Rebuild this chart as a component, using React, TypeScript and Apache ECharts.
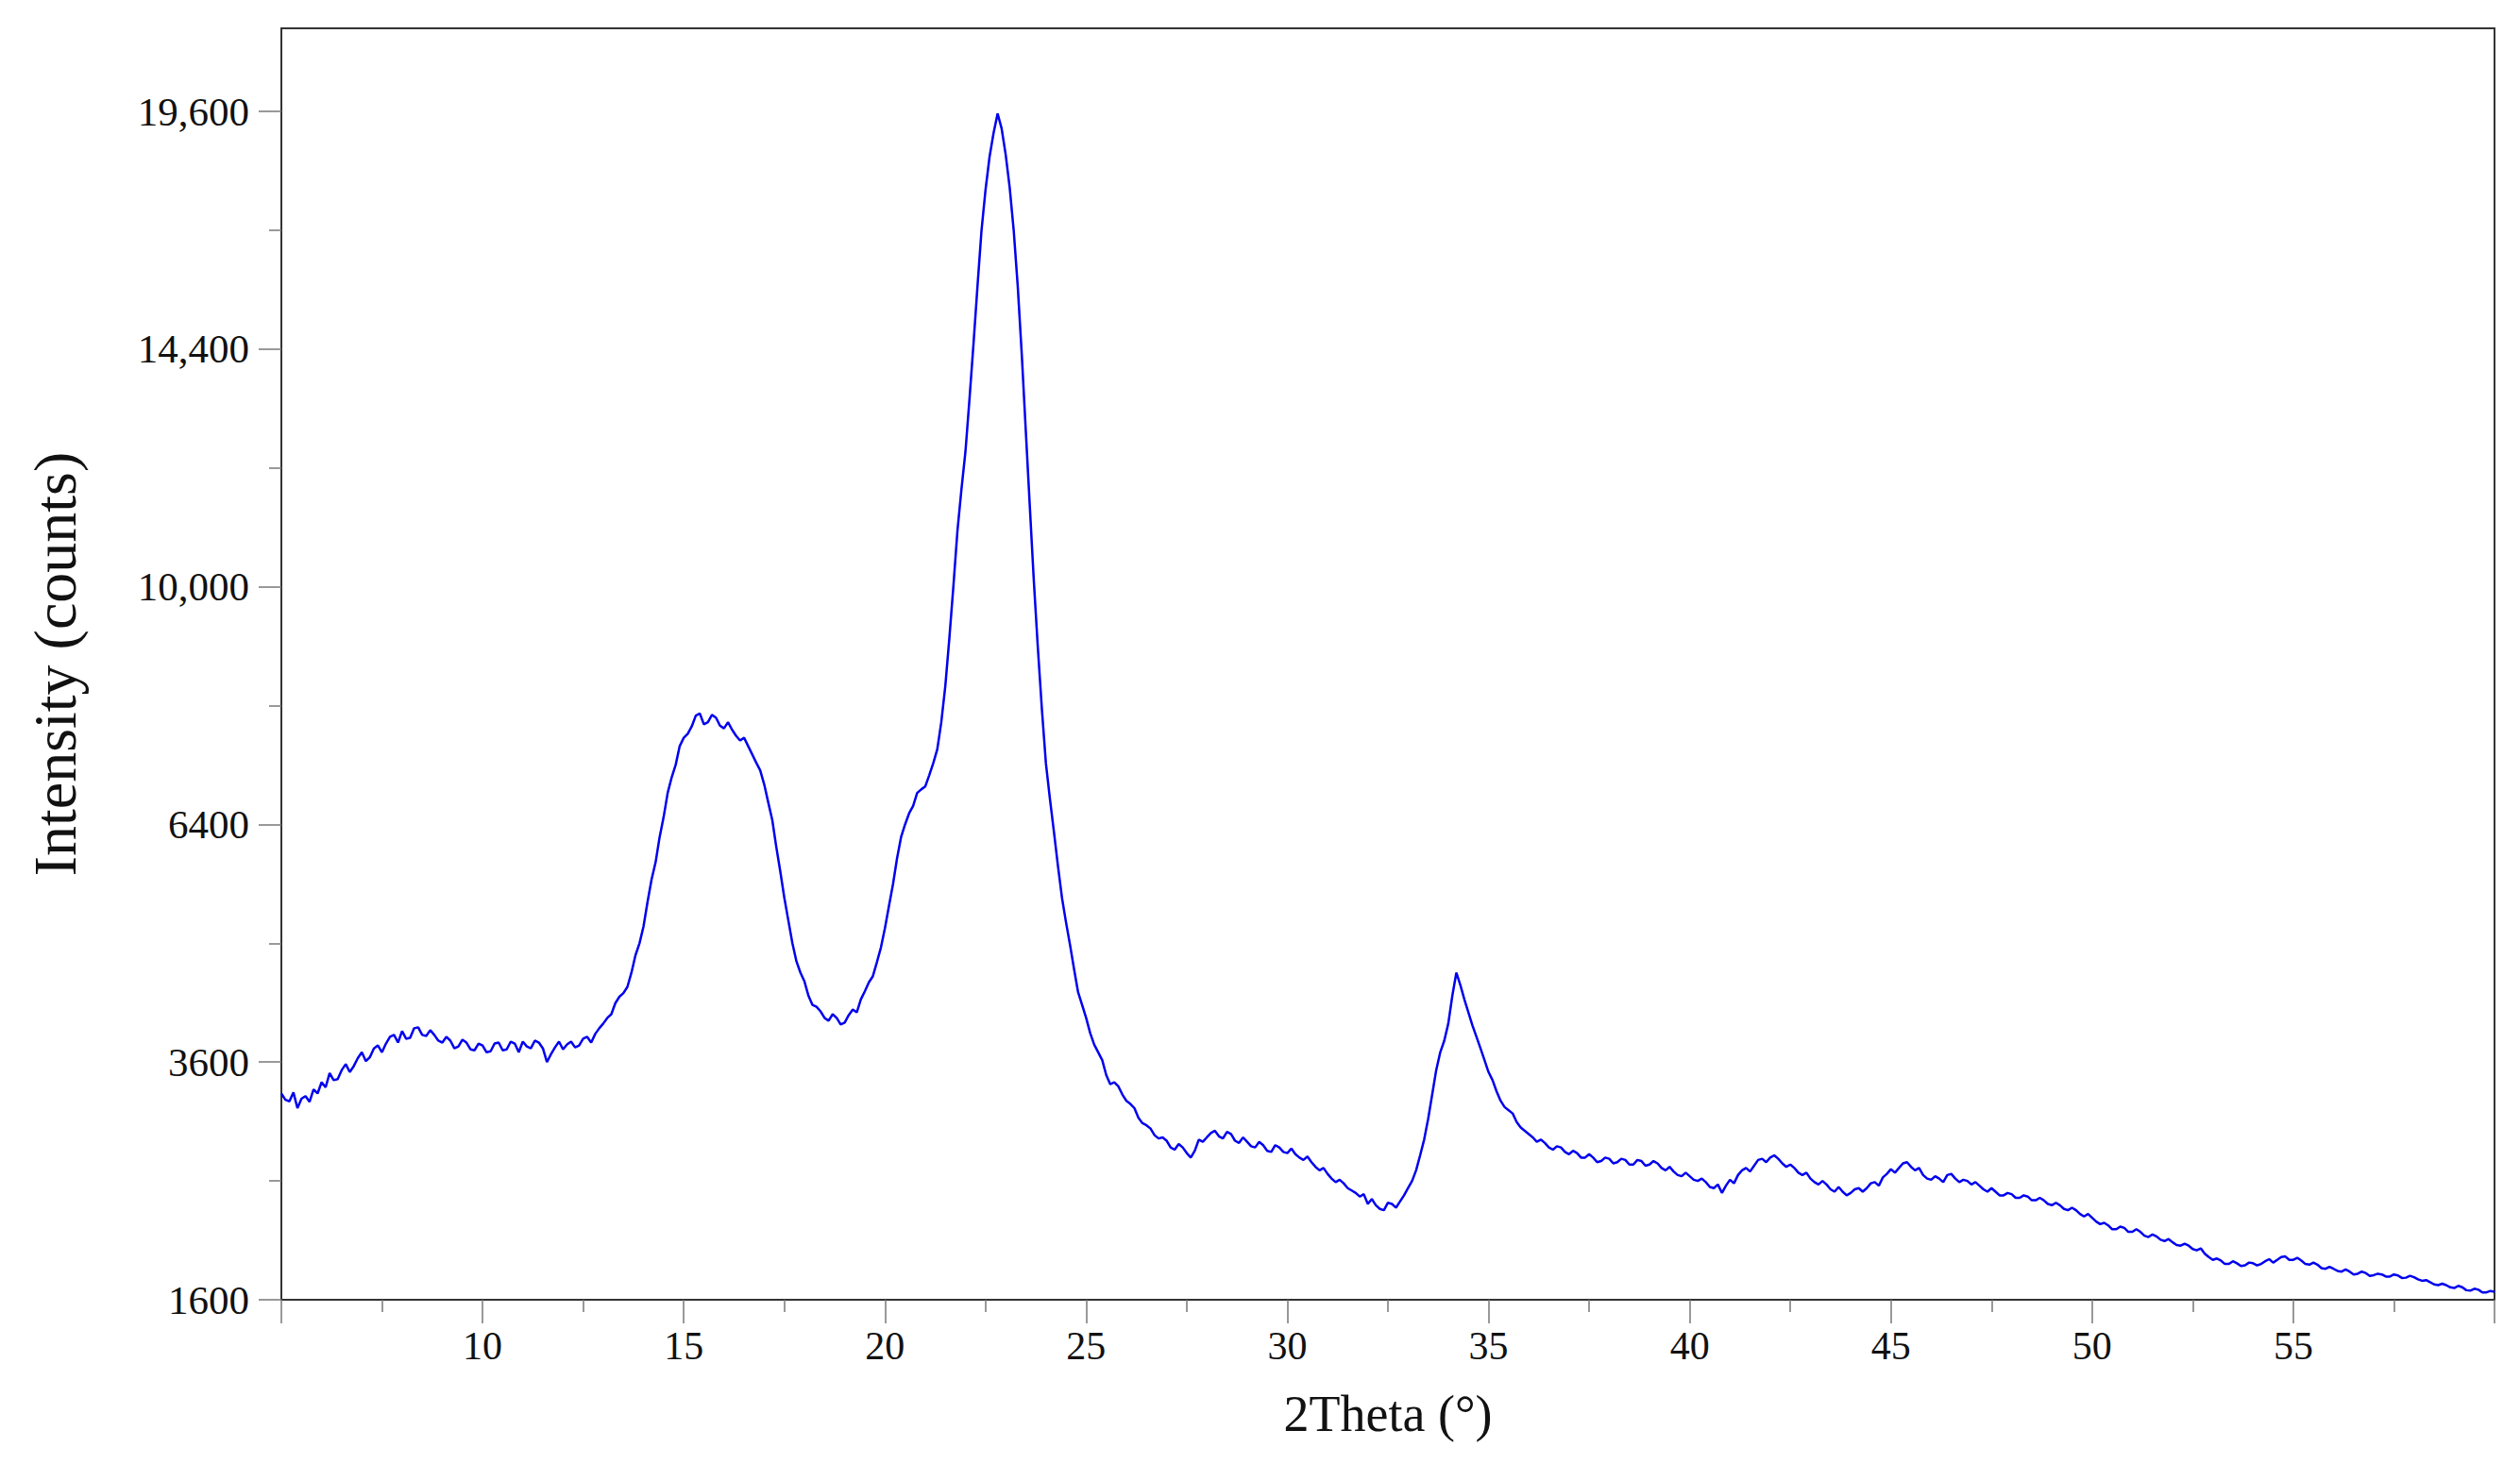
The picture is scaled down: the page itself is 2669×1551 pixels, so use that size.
import React, { useEffect, useRef } from "react"
import * as echarts from "echarts"

// scan settings (degrees 2θ)
const scanStart = 5
const scanStep = 0.1

// intensity in counts, one value per step from 5.0° to 60.0° (one row per degree)
const intensity = [
  3290, 3230, 3215, 3300, 3150, 3240, 3265, 3210, 3330, 3290,
  3400, 3350, 3490, 3420, 3430, 3520, 3580, 3500, 3560, 3640,
  3700, 3610, 3650, 3740, 3770, 3700, 3790, 3860, 3880, 3800,
  3920, 3840, 3850, 3950, 3960, 3880, 3870, 3930, 3880, 3820,
  3800, 3860, 3820, 3740, 3760, 3830, 3800, 3730, 3720, 3790,
  3770, 3700, 3710, 3790, 3800, 3720, 3730, 3810, 3790, 3700,
  3810, 3760, 3740, 3820, 3800, 3740, 3600, 3680, 3750, 3810,
  3730, 3780, 3810, 3750, 3770, 3840, 3860, 3800, 3890, 3950,
  4000, 4060, 4100, 4220, 4290, 4330, 4400, 4560, 4760, 4900,
  5100, 5400, 5680, 5900, 6230, 6500, 6830, 7050, 7230, 7500,
  7620, 7680, 7790, 7950, 7980, 7820, 7850, 7960, 7920, 7800,
  7760, 7850, 7740, 7650, 7580, 7620, 7500, 7380, 7260, 7150,
  6950, 6700, 6460, 6100, 5780, 5450, 5170, 4900, 4690, 4560,
  4460, 4300, 4200, 4180, 4130, 4060, 4030, 4100, 4060, 3990,
  4010, 4090, 4150, 4120, 4260, 4350, 4450, 4520, 4680, 4850,
  5080, 5350, 5620, 5950, 6230, 6400, 6550, 6650, 6830, 6880,
  6920, 7080, 7250, 7450, 7850, 8400, 9150, 10000, 10950, 11700,
  12400, 13400, 14500, 15700, 16900, 17800, 18550, 19100, 19550, 19200,
  18600, 17850, 16900, 15700, 14300, 12800, 11400, 10100, 9000, 8050,
  7250, 6750, 6300, 5850, 5450, 5150, 4880, 4600, 4340, 4200,
  4060, 3900, 3780, 3700, 3620, 3470, 3380, 3400, 3360, 3280,
  3220, 3190, 3150, 3060, 3010, 2990, 2960, 2900, 2870, 2880,
  2850, 2790, 2770, 2820, 2790, 2740, 2700, 2760, 2860, 2840,
  2880, 2920, 2940, 2890, 2870, 2930, 2910, 2850, 2830, 2880,
  2840, 2800, 2790, 2840, 2810, 2760, 2750, 2810, 2790, 2750,
  2740, 2780, 2730, 2700, 2680, 2710, 2660, 2620, 2590, 2610,
  2560, 2520, 2490, 2510, 2480, 2440, 2420, 2400, 2370, 2390,
  2310, 2350, 2300, 2270, 2260, 2320, 2310, 2280, 2330, 2380,
  2440, 2500, 2590, 2720, 2860, 3050, 3280, 3520, 3700, 3820,
  4000, 4300, 4560, 4420, 4260, 4120, 3980, 3860, 3740, 3620,
  3500, 3420, 3310, 3220, 3160, 3130, 3100, 3020, 2970, 2940,
  2910, 2880, 2840, 2860, 2830, 2790, 2770, 2800, 2790, 2750,
  2730, 2760, 2740, 2700, 2700, 2730, 2700, 2660, 2670, 2700,
  2690, 2650, 2660, 2690, 2680, 2640, 2640, 2680, 2670, 2630,
  2640, 2670, 2650, 2610, 2590, 2620, 2580, 2550, 2540, 2570,
  2540, 2510, 2500, 2520, 2490, 2450, 2440, 2470, 2400, 2460,
  2510, 2480, 2550, 2590, 2610, 2580, 2630, 2680, 2690, 2660,
  2700, 2720, 2690, 2650, 2620, 2640, 2610, 2570, 2550, 2570,
  2520, 2490, 2470, 2500, 2470, 2430, 2410, 2450, 2410, 2380,
  2400, 2430, 2440, 2410, 2440, 2480, 2490, 2460, 2530, 2560,
  2600, 2570, 2610, 2650, 2660, 2620, 2590, 2610, 2550, 2520,
  2510, 2540, 2520, 2490, 2550, 2560, 2520, 2490, 2510, 2500,
  2470, 2490, 2460, 2430, 2410, 2440, 2410, 2380, 2380, 2400,
  2390, 2360, 2360, 2380, 2370, 2340, 2340, 2360, 2340, 2310,
  2300, 2320, 2300, 2270, 2260, 2280, 2260, 2230, 2210, 2230,
  2200, 2170, 2150, 2160, 2140, 2110, 2110, 2130, 2120, 2090,
  2090, 2110, 2090, 2060, 2050, 2070, 2055, 2030, 2020, 2035,
  2010, 1990, 1985, 2000, 1985, 1960, 1950, 1965, 1925, 1900,
  1880, 1890, 1875, 1850, 1850, 1870, 1855, 1835, 1840, 1860,
  1855, 1840, 1850, 1870, 1885, 1860, 1880, 1900, 1905, 1880,
  1880, 1895, 1875, 1850, 1845, 1860, 1845, 1820, 1815, 1830,
  1815, 1800, 1795, 1810, 1795, 1775, 1780, 1795, 1785, 1765,
  1770, 1780, 1775, 1760, 1760, 1775, 1768, 1750, 1752, 1765,
  1755, 1740, 1730, 1735, 1720, 1705, 1700, 1710, 1700, 1685,
  1680, 1695, 1685, 1665, 1662, 1675, 1668, 1650, 1650, 1660,
  1655,
]

// y axis is square-root scaled: ticks sit at these counts
const yTickCounts = [1600, 3600, 6400, 10000, 14400, 19600]
const yMinorCounts = [2500, 4900, 8100, 12100, 16900]
const yTopCount = 21609

const FONT = '"Liberation Serif", "DejaVu Serif", serif'

const fmtCount = (n: number) =>
  n >= 10000 ? n.toLocaleString("en-US") : String(n)

export default function App() {
  const ref = useRef<HTMLDivElement>(null)

  useEffect(() => {
    if (!ref.current) return
    const chart = echarts.init(ref.current, undefined, { renderer: "svg" })

    const points = intensity.map((v, i) => [
      +(scanStart + i * scanStep).toFixed(1),
      Math.sqrt(v),
    ])
    const yMin = Math.sqrt(yTickCounts[0])
    const yMax = Math.sqrt(yTopCount)

    chart.setOption({
      animation: false,
      backgroundColor: "#ffffff",
      grid: {
        left: 298,
        right: 27,
        top: 30,
        bottom: 174,
        containLabel: false,
        show: true,
        borderColor: "#333",
        borderWidth: 2,
      },
      xAxis: {
        type: "value",
        min: 5,
        max: 60,
        interval: 5,
        name: "2Theta (°)",
        nameLocation: "middle",
        nameGap: 94,
        nameTextStyle: { fontFamily: FONT, fontSize: 54, color: "#111" },
        axisLine: { show: true, lineStyle: { color: "#333", width: 2 } },
        axisTick: { show: true, length: 25, lineStyle: { color: "#777", width: 1.5 } },
        minorTick: { show: true, splitNumber: 2, length: 13, lineStyle: { color: "#777", width: 1.5 } },
        axisLabel: {
          showMinLabel: false,
          showMaxLabel: false,
          margin: 28,
          fontFamily: FONT,
          fontSize: 42,
          color: "#111",
        },
        splitLine: { show: false },
      },
      yAxis: [
        {
          type: "value",
          min: yMin,
          max: yMax,
          interval: 20,
          name: "Intensity (counts)",
          nameLocation: "middle",
          nameGap: 208,
          nameTextStyle: { fontFamily: FONT, fontSize: 64, color: "#111" },
          axisLine: { show: true, lineStyle: { color: "#333", width: 2 } },
          axisTick: {
            show: true,
            length: 24,
            customValues: yTickCounts.map((c) => Math.sqrt(c)),
            lineStyle: { color: "#777", width: 1.5 },
          },
          axisLabel: {
            customValues: yTickCounts.map((c) => Math.sqrt(c)),
            margin: 34,
            fontFamily: FONT,
            fontSize: 43,
            color: "#111",
            formatter: (v: number) => fmtCount(Math.round(v * v)),
          },
          splitLine: { show: false },
        },
        {
          type: "value",
          min: yMin,
          max: yMax,
          position: "left",
          axisLine: { show: false },
          axisTick: {
            show: true,
            length: 13,
            customValues: yMinorCounts.map((c) => Math.sqrt(c)),
            lineStyle: { color: "#777", width: 1.5 },
          },
          axisLabel: { show: false },
          splitLine: { show: false },
        },
      ],
      series: [
        {
          type: "line",
          data: points,
          yAxisIndex: 0,
          showSymbol: false,
          lineStyle: { color: "#0000ee", width: 2.5 },
        },
      ],
    })

    return () => chart.dispose()
  }, [])

  return (
    <div
      ref={ref}
      style={{
        position: "fixed",
        left: 0,
        top: 0,
        width: "100vw",
        height: "100vh",
        background: "#fff",
      }}
    />
  )
}
